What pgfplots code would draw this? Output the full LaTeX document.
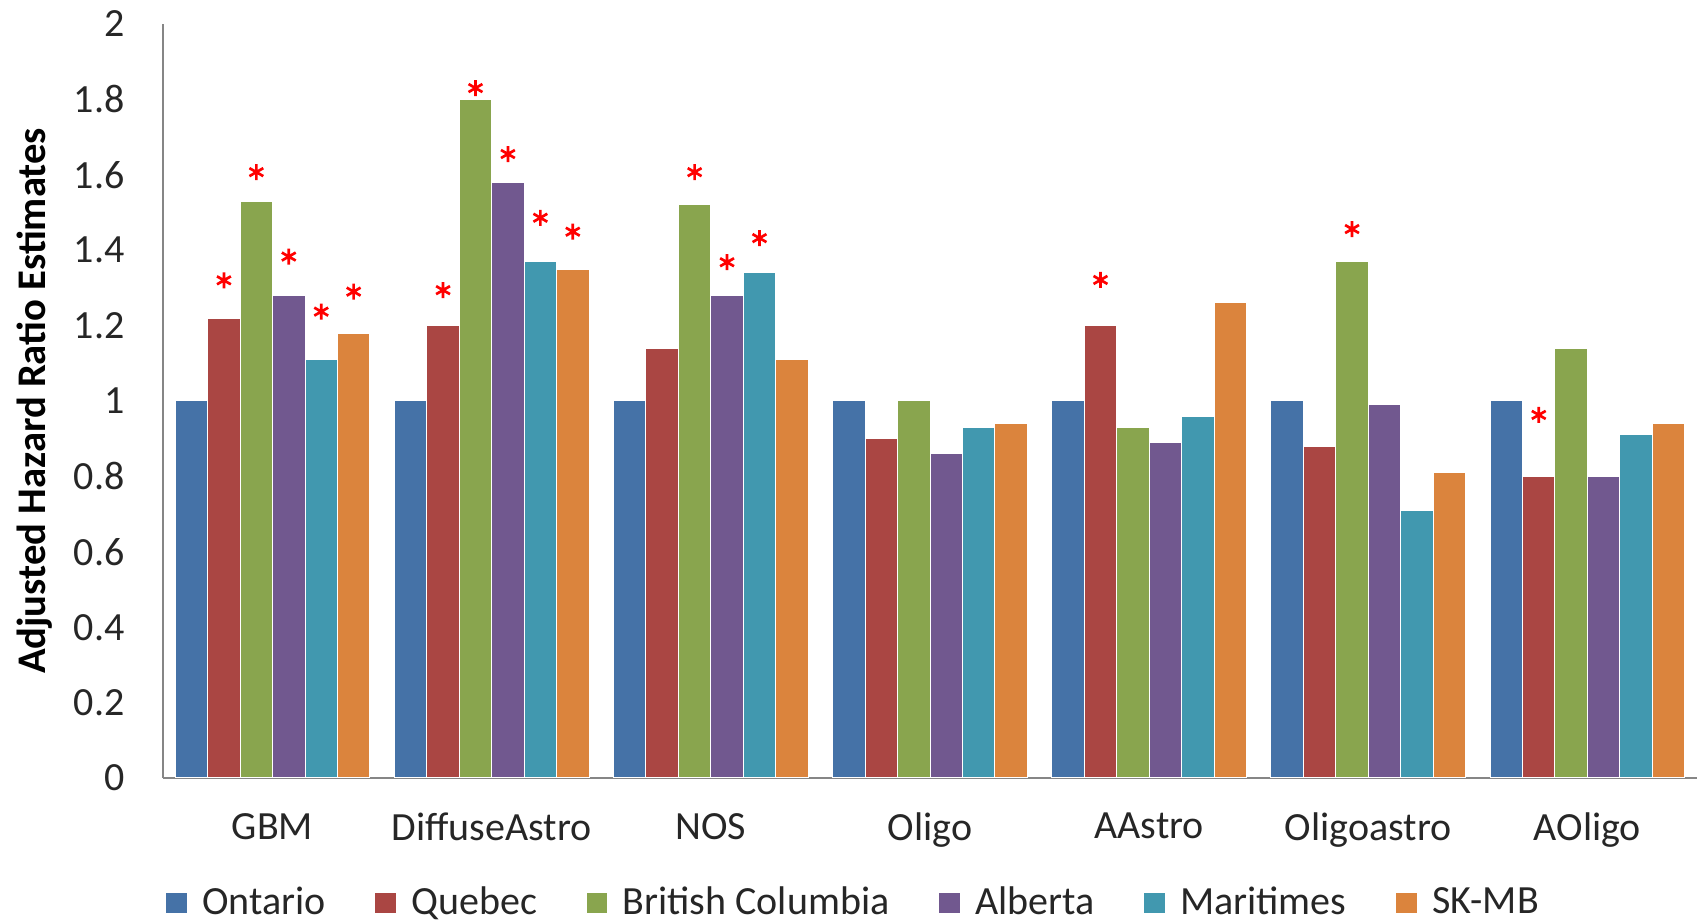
\documentclass[border=0pt]{standalone}
\usepackage{pgfplots}
\pgfplotsset{compat=1.18}
\usepackage{fontspec}
\setmainfont{Carlito}

\definecolor{cOnt}{HTML}{4572A7}
\definecolor{cQue}{HTML}{AA4643}
\definecolor{cBC}{HTML}{89A54E}
\definecolor{cAlb}{HTML}{71588F}
\definecolor{cMar}{HTML}{4198AF}
\definecolor{cSK}{HTML}{DB843D}
\definecolor{axisgray}{HTML}{868686}

\pgfplotsset{
  hrbar/.style={ybar, bar width=0.148, bar shift=#1, draw=white, line width=0.3pt},
}

\begin{document}
\begin{tikzpicture}
\begin{axis}[
  name=ax,
  scale only axis, width=460.2pt, height=226.2pt,
  xmin=-0.5, xmax=6.5, ymin=0, ymax=2,
  axis x line=bottom, axis y line=left,
  axis line style={-, draw=axisgray, line width=0.8pt},
  xtick={0,1,2,3,4,5,6},
  xticklabels={GBM, DiffuseAstro, NOS, Oligo, AAstro, Oligoastro, AOligo},
  ytick={0,0.2,0.4,0.6,0.8,1,1.2,1.4,1.6,1.8,2},
  major tick length=0,
  /pgf/number format/assume math mode=true,
  tick label style={font=\fontsize{12}{14}\selectfont, text=black!85},
  yticklabel style={xshift=-8pt},
  xticklabel style={yshift=-7pt},
  ylabel={Adjusted Hazard Ratio Estimates},
  ylabel style={font=\fontsize{12.2}{14}\selectfont\bfseries, at={(axis description cs:-0.0837,0.5)}, anchor=center},
  legend columns=6,
  legend style={draw=none, fill=none, at={(axis description cs:0,0)}, anchor=west, xshift=-2.5pt, yshift=-37.5pt,
    font=\fontsize{12}{14}\selectfont, text=black!85,
    /tikz/every even column/.append style={column sep=12.6pt}},
  legend image code/.code={\fill[#1] (0pt,-3.2pt) rectangle (6.5pt,3.2pt); \path (8.8pt,0pt);},
]
\addplot[hrbar=-0.37, fill=cOnt] coordinates {(0,1) (1,1) (2,1) (3,1) (4,1) (5,1) (6,1)};
\addlegendentry{Ontario}
\addplot[hrbar=-0.222, fill=cQue] coordinates {(0,1.22) (1,1.20) (2,1.14) (3,0.90) (4,1.20) (5,0.88) (6,0.80)};
\addlegendentry{Quebec}
\addplot[hrbar=-0.074, fill=cBC] coordinates {(0,1.53) (1,1.80) (2,1.52) (3,1.00) (4,0.93) (5,1.37) (6,1.14)};
\addlegendentry{British Columbia}
\addplot[hrbar=0.074, fill=cAlb] coordinates {(0,1.28) (1,1.58) (2,1.28) (3,0.86) (4,0.89) (5,0.99) (6,0.80)};
\addlegendentry{Alberta}
\addplot[hrbar=0.222, fill=cMar] coordinates {(0,1.11) (1,1.37) (2,1.34) (3,0.93) (4,0.96) (5,0.71) (6,0.91)};
\addlegendentry{Maritimes}
\addplot[hrbar=0.37, fill=cSK] coordinates {(0,1.18) (1,1.35) (2,1.11) (3,0.94) (4,1.26) (5,0.81) (6,0.94)};
\addlegendentry{SK-MB}
% significance asterisks
\addplot[only marks, mark=asterisk, mark size=2.4pt, red, line width=0.8pt, forget plot] coordinates {
  (-0.222,1.32) (-0.074,1.607) (0.074,1.383) (0.222,1.237) (0.37,1.29)
  (0.778,1.294) (0.926,1.83) (1.074,1.655) (1.222,1.486) (1.37,1.449)
  (1.926,1.607) (2.074,1.368) (2.222,1.432)
  (3.778,1.321)
  (4.926,1.456)
  (5.778,0.963)
};
\end{axis}
\pgfresetboundingbox
\path[use as bounding box] ([xshift=-48.9pt,yshift=-43.5pt]ax.south west) rectangle ([xshift=2.7pt,yshift=7.2pt]ax.north east);
\end{tikzpicture}
\end{document}
